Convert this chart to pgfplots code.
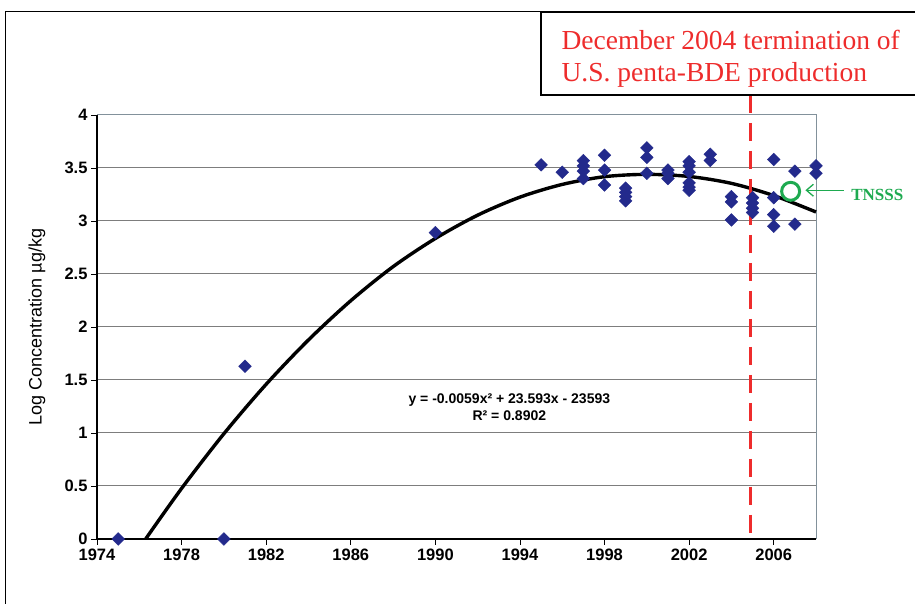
\documentclass[border=0pt]{standalone}
\usepackage{fontspec}
\setmainfont{Liberation Sans}
\newfontfamily\serifx{Liberation Serif}
\usepackage{pgfplots}
\pgfplotsset{compat=1.18}
\usetikzlibrary{arrows.meta}
\definecolor{mk}{RGB}{35,42,140}
\definecolor{rd}{RGB}{238,44,44}
\definecolor{gr}{RGB}{30,170,80}
\definecolor{gridc}{RGB}{125,125,125}
\definecolor{boxc}{RGB}{130,145,155}

\pgfplotstableread{
x y
1975 0
1980 0
1981 1.63
1990 2.89
1995 3.53
1996 3.46
1997 3.57
1997 3.52
1997 3.47
1997 3.40
1998 3.62
1998 3.48
1998 3.34
1999 3.31
1999 3.27
1999 3.23
1999 3.19
2000 3.69
2000 3.60
2000 3.45
2001 3.48
2001 3.45
2001 3.40
2002 3.56
2002 3.52
2002 3.46
2002 3.36
2002 3.32
2002 3.29
2003 3.63
2003 3.57
2004 3.23
2004 3.18
2004 3.01
2005 3.22
2005 3.17
2005 3.12
2005 3.08
2006 3.58
2006 3.22
2006 3.06
2006 2.95
2007 3.47
2007 2.97
2008 3.52
2008 3.45
}\pts

\pgfplotstableread{
x y
1976.3 0
1978 0.477
1980 0.993
1982 1.460
1984 1.878
1986 2.248
1988 2.569
1990 2.835
1992 3.055
1994 3.225
1996 3.345
1998 3.418
2000 3.440
2002 3.420
2004 3.355
2006 3.240
2008 3.085
}\fit

\begin{document}
\begin{tikzpicture}[x=1pt,y=1pt]
\useasboundingbox (0,0) rectangle (915,604);
\fill[white] (0,0) rectangle (915,604);
\draw[black, line width=1pt] (5,0) -- (5,592) -- (915,592);
\begin{axis}[
  at={(97pt,65pt)}, anchor=south west,
  scale only axis, width=719pt, height=424pt,
  xmin=1974, xmax=2008, ymin=0, ymax=4,
  xtick={1974,1978,...,2006},
  ytick={0,0.5,1,1.5,2,2.5,3,3.5,4},
  xticklabel style={/pgf/number format/1000 sep={}},
  /pgf/number format/assume math mode=true,
  ticklabel style={font=\bfseries\fontsize{16.5}{16.5}\selectfont},
  tick align=outside, xtick pos=left, ytick pos=left,
  major tick length=6pt,
  tick style={black, line width=0.9pt},
  axis line style={boxc, line width=1pt},
  ymajorgrids, major grid style={gridc, line width=1pt},
  clip=false,
]
\addplot[black, line width=3.4pt, smooth] table[x=x,y=y] {\fit};
\addplot[only marks, mark=square*, mark size=4.5pt, mark options={rotate=45, fill=mk, draw=mk}] table[x=x,y=y] {\pts};
\addplot[rd, line width=3.2pt, dash pattern=on 18pt off 10pt] coordinates {(2004.9,4.19) (2004.9,0)};
\addplot[only marks, mark=o, mark size=9pt, gr, line width=3pt] coordinates {(2006.8,3.28)};
\draw[black, line width=1.3pt] (rel axis cs:0,1) -- (rel axis cs:0,0) -- (rel axis cs:1,0);
\draw[gr, line width=1.3pt, -{Straight Barb[length=7pt,width=12pt]}] (axis cs:2009.3,3.29) -- (axis cs:2007.5,3.29);
\node[text=gr, font=\serifx\bfseries\fontsize{17}{17}\selectfont] at (axis cs:2010.9,3.25) {TNSSS};
\node[font=\bfseries\fontsize{14}{17}\selectfont, align=center] at (axis cs:1993.5,1.245) {y = -0.0059x² + 23.593x - 23593\\R² = 0.8902};
\end{axis}
\node[rotate=90, font=\fontsize{18}{18}\selectfont] at (37,277) {Log Concentration µg/kg};
\draw[black, line width=2pt, fill=white] (541,509) rectangle (918,592);
\node[anchor=base west, text=rd, font=\serifx\fontsize{27.5}{27.5}\selectfont] at (558,554) {December 2004 termination of};
\node[anchor=base west, text=rd, font=\serifx\fontsize{27.5}{27.5}\selectfont] at (558,522) {U.S. penta-BDE production};
\end{tikzpicture}
\end{document}
